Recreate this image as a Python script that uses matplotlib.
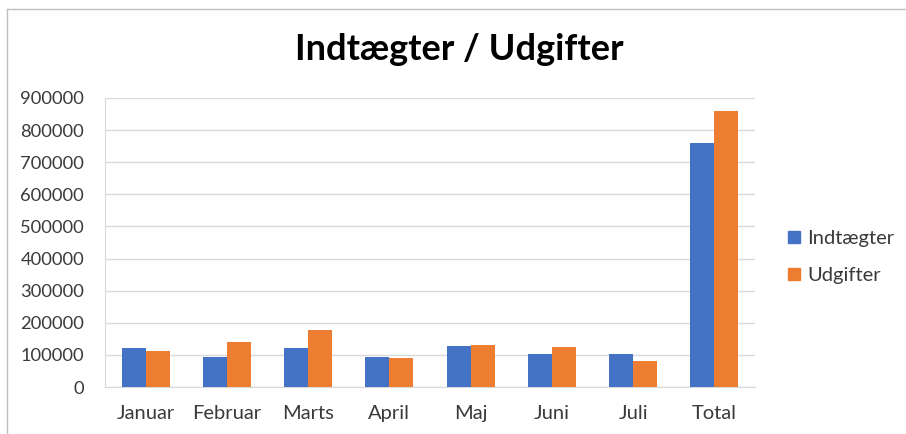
import matplotlib
matplotlib.use("Agg")
import matplotlib.pyplot as plt
from matplotlib.lines import Line2D
import numpy as np

categories = ["Januar", "Februar", "Marts", "April", "Maj", "Juni", "Juli", "Total"]
indtaegter = [122000, 93000, 122000, 93000, 129000, 103000, 103000, 760000]
udgifter = [113000, 141500, 176500, 91000, 132000, 125000, 80500, 858000]
yticks = list(range(0, 900001, 100000))
series_names = ["Indtægter", "Udgifter"]

BLUE = "#4472C4"
ORANGE = "#ED7D31"
TXT = "#3A3A3A"
GRID = "#D9D9D9"

plt.rcParams['font.family'] = ['Lato', 'DejaVu Sans']

W, H = 906, 434
fig = plt.figure(figsize=(W / 100, H / 100), dpi=100)
fig.patch.set_facecolor("white")

# outer frame (left and top edges visible)
fig.add_artist(Line2D([6.5 / W, 6.5 / W], [0, 1 - 8.5 / H], transform=fig.transFigure, color="#BFBFBF", lw=1))
fig.add_artist(Line2D([6.5 / W, 1], [1 - 8.5 / H, 1 - 8.5 / H], transform=fig.transFigure, color="#BFBFBF", lw=1))

left, right, top, bottom = 105, 755, 98, 387
ax = fig.add_axes([left / W, 1 - bottom / H, (right - left) / W, (bottom - top) / H])

x = np.arange(len(categories))
bw = 0.295
ax.bar(x - bw / 2, indtaegter, width=bw, color=BLUE, label=series_names[0], zorder=3)
ax.bar(x + bw / 2, udgifter, width=bw, color=ORANGE, label=series_names[1], zorder=3)

ax.set_xlim(-0.5, len(categories) - 0.5)
ax.set_ylim(0, 900000)
ax.set_yticks(yticks)
ax.set_yticklabels([str(v) for v in yticks])
ax.set_xticks(x)
ax.set_xticklabels(categories)
ax.yaxis.grid(True, color=GRID, lw=1, zorder=0)
ax.set_axisbelow(True)
for s in ["top", "right"]:
    ax.spines[s].set_visible(False)
ax.spines["left"].set_color(GRID)
ax.spines["bottom"].set_color(GRID)
ax.tick_params(axis="both", length=0, labelcolor=TXT)
ax.tick_params(axis="y", pad=15, labelsize=13.2)
ax.tick_params(axis="x", pad=13, labelsize=14.5)

fig.text(459.5 / W, 1 - 49 / H, "Indtægter / Udgifter", ha="center", va="center",
         fontsize=26, fontweight="bold", color="black")

handles = [Line2D([], [], marker="s", ls="none", markersize=8, color=c) for c in (BLUE, ORANGE)]
fig.legend(handles, series_names, loc="center left", bbox_to_anchor=(784 / W, 1 - 257 / H),
           frameon=False, fontsize=14.5, labelcolor=TXT, handletextpad=0.15,
           labelspacing=0.95, handlelength=1.0, borderaxespad=0, borderpad=0)

fig.savefig("out.png", dpi=100)
